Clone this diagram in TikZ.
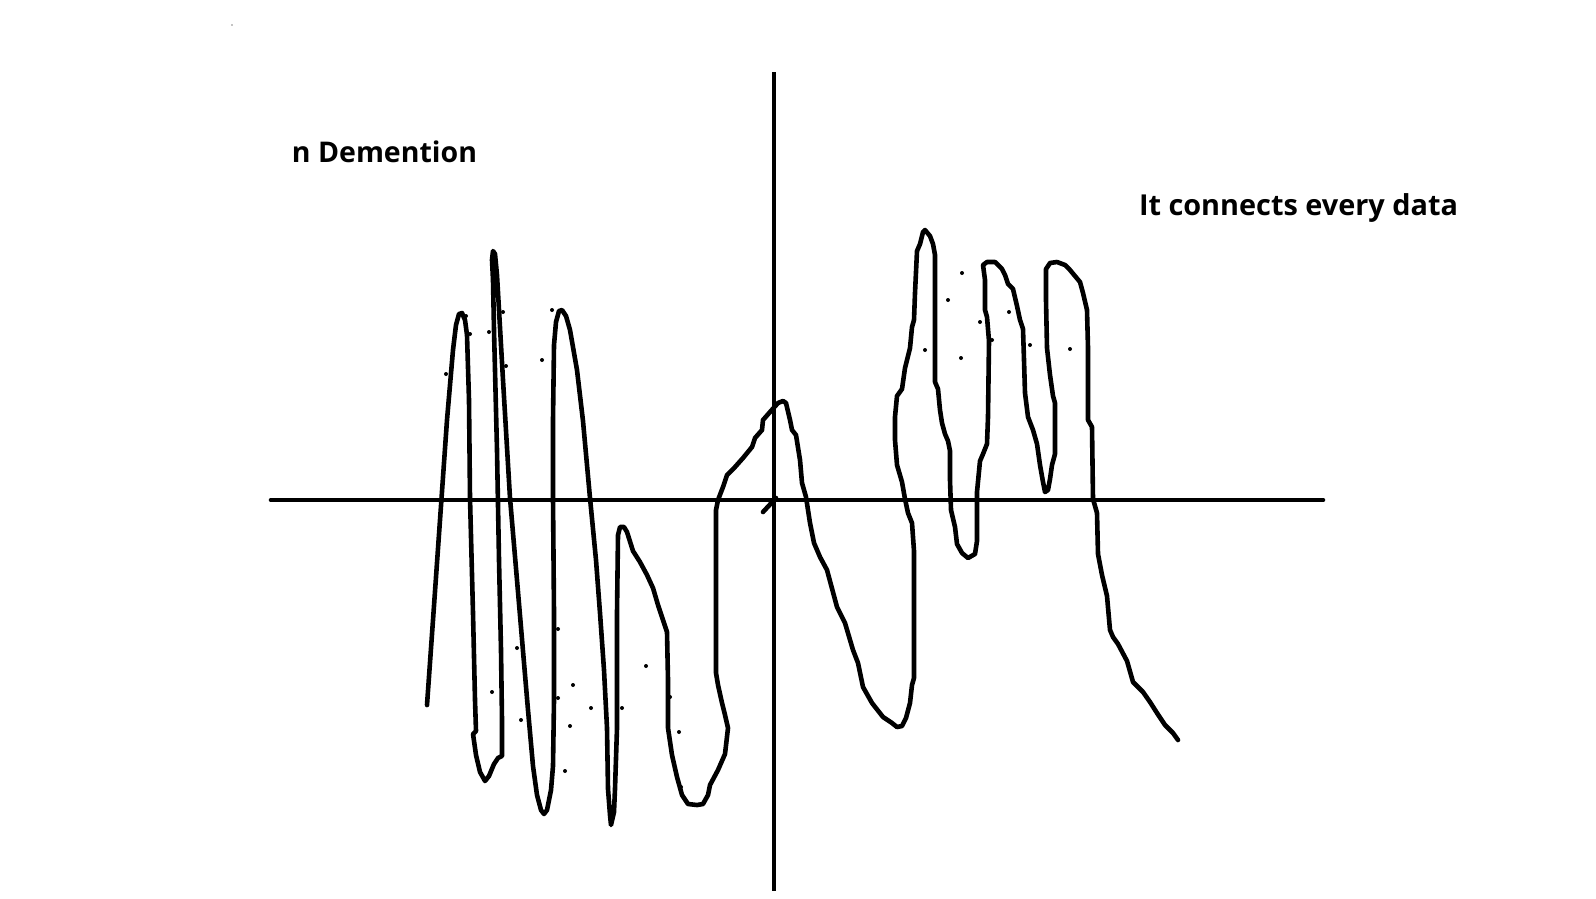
\documentclass[tikz,border=0pt]{standalone}
\usepackage{fontspec}
\setmainfont{Open Sans}[BoldFont={Open Sans Bold}]
\begin{document}
\begin{tikzpicture}[x=1pt,y=-1pt,
  stroke/.style={line width=4.6pt,line join=round,line cap=round,black},
  speck/.style={fill=black,draw=none},
  lbl/.style={inner sep=0pt,anchor=center}]
\useasboundingbox (0,0) rectangle (1596,898);
% axes
\draw[stroke] (271,500) -- (1323,500);
\draw[stroke,line cap=butt] (774,72) -- (774,891);
\draw[stroke] (763,512) -- (776,498);
% labels
\node[lbl] (ndim) at (384.5,152) {\resizebox{185pt}{!}{\bfseries n Demention}};
\node[lbl] (conn) at (1298.5,208) {\resizebox{319pt}{!}{\bfseries It connects every data}};
% curve
\draw[stroke] (427,705)--(433,620)--(440,520)--(447,420)--(453,350)--(456,325)--(459,314)--(462,313)--(465,320)--(467,335)--(469,400)--(470,498)--(473,613)--(475,700)--(476,731)--(473,734)--(476,755)--(480,772)--(485,781)--(489,776)--(494,764)--(498,758)--(502,756)--(502,720)--(501,650)--(499,560)--(497,450)--(494,330)--(493,280)--(492,260)--(493,251)--(495,254)--(497,275)--(503,380)--(510,498)--(517,580)--(523,651)--(528,710)--(533,766)--(537,795)--(541,810)--(544,814)--(547,810)--(551,790)--(553,766)--(554,700)--(554,613)--(553,498)--(553,420)--(554,345)--(556,322)--(559,311)--(562,310)--(566,316)--(570,330)--(577,370)--(583,421)--(590,498)--(596,560)--(600,613)--(604,670)--(607,728)--(608,789)--(610,815)--(611,825)--(614,812)--(615,789)--(617,728)--(617,613)--(618,535)--(620,527)--(624,527)--(627,532)--(633,551)--(640,562)--(647,575)--(653,588)--(658,605)--(663,620)--(667,632)--(668,680)--(668,728)--(672,755)--(677,777)--(682,795)--(688,804)--(697,805)--(703,804)--(708,795)--(710,785)--(718,770)--(725,754)--(728,728)--(725,715)--(722,703)--(718,685)--(716,673)--(716,600)--(716,510)--(718,500)--(723,487)--(727,475)--(735,467)--(743,458)--(752,447)--(755,438)--(762,430)--(763,420)--(770,412)--(778,403)--(783,401)--(786,403)--(790,420)--(792,430)--(796,435)--(800,460)--(802,483)--(806,497)--(810,523)--(814,543)--(820,557)--(827,570)--(837,607)--(845,623)--(853,650)--(858,663)--(863,687)--(872,703)--(883,717)--(892,723)--(897,727)--(902,726)--(906,718)--(910,703)--(912,685)--(914,678)--(914,600)--(914,551)--(912,523)--(908,513)--(905,499)--(902,482)--(897,465)--(895,440)--(895,417)--(897,396)--(902,389)--(905,368)--(910,348)--(912,327)--(914,320)--(915,293)--(917,251)--(920,244)--(923,232)--(925,230)--(930,236)--(933,244)--(935,255)--(935,320)--(935,382)--(938,389)--(940,410)--(942,423)--(945,434)--(948,441)--(950,451)--(950,480)--(951,510)--(955,527)--(957,544)--(962,553)--(968,558)--(975,554)--(977,541)--(977,492)--(980,461)--(983,454)--(987,444)--(988,417)--(989,341)--(987,317)--(985,310)--(985,280)--(983,265)--(987,262)--(995,262)--(1002,269)--(1005,275)--(1008,284)--(1013,289)--(1017,306)--(1020,320)--(1023,329)--(1024,360)--(1025,393)--(1028,417)--(1033,430)--(1037,444)--(1040,465)--(1043,482)--(1045,492)--(1048,490)--(1050,479)--(1052,465)--(1055,454)--(1055,403)--(1053,396)--(1050,375)--(1047,348)--(1046,300)--(1046,269)--(1050,263)--(1057,262)--(1065,265)--(1070,270)--(1080,282)--(1083,293)--(1087,310)--(1088,348)--(1088,420)--(1092,427)--(1093,499)--(1097,513)--(1098,554)--(1102,575)--(1107,596)--(1110,630)--(1113,637)--(1118,644)--(1127,661)--(1133,682)--(1143,692)--(1150,702)--(1157,713)--(1165,725)--(1173,733)--(1178,740);
% scattered data points
\foreach \p in {(446,374),(466,316),(470,334),(489,332),(503,312),(506,366),(542,360),(552,310),(558,629),(517,648),(492,692),(521,720),(573,685),(558,698),(591,708),(570,726),(565,771),(607,726),(622,708),(646,666),(670,697),(679,732),(681,787),
(962,273),(948,300),(980,322),(1009,312),(992,340),(925,350),(961,358),(1030,345),(1070,349)}
  \fill[speck] \p circle (2);
\fill[speck] (232,25) circle (0.6);
\end{tikzpicture}
\end{document}
